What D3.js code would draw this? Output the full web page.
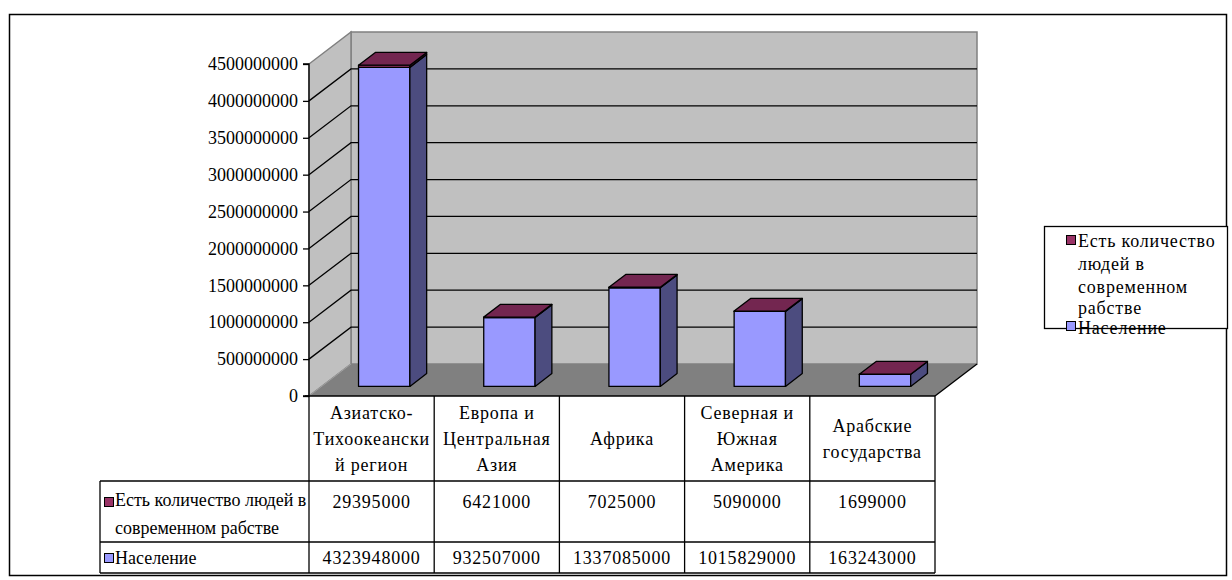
<!DOCTYPE html>
<html>
<head>
<meta charset="utf-8">
<script src="https://cdn.jsdelivr.net/npm/d3@7"></script>
</head>
<body style="margin:0">
<div id="chart"></div>
<script>
// data
const categories = [
    ['Азиатско-', 'Тихоокеански', 'й регион'],
    ['Европа и', 'Центральная', 'Азия'],
    ['Африка'],
    ['Северная и', 'Южная', 'Америка'],
    ['Арабские', 'государства'],
];
const slavery = [29395000, 6421000, 7025000, 5090000, 1699000];
const population = [4323948000, 932507000, 1337085000, 1015829000, 163243000];
const slaveryName = ['Есть количество людей в', 'современном рабстве'];
const slaveryLegend = ['Есть количество', 'людей в', 'современном', 'рабстве'];
const populationName = 'Население';
const yTicks = [0, 500000000, 1000000000, 1500000000, 2000000000, 2500000000,
    3000000000, 3500000000, 4000000000, 4500000000];

const width = 1232;
const height = 580;
const depthX = 42; // 3d offset of the back wall
const depthY = -32;
const barFront = 0.3; // bar sits between these depth fractions
const barBack = 0.7;

const svg = d3.select('#chart').append('svg')
    .attr('width', width)
    .attr('height', height);

// outer frame
svg.append('rect')
    .attr('x', 9.5).attr('y', 14.5)
    .attr('width', 1217).attr('height', 561)
    .style('fill', 'none').style('stroke', '#000').style('stroke-width', 1.5);

const x = d3.scaleBand().domain(d3.range(categories.length)).range([309, 935]);
const y = d3.scaleLinear().domain([0, 4500000000]).range([396, 64]);
const [x0, x1] = x.range();
const [yb, yt] = y.range();

const pts = p => p.map(d => d.join(',')).join(' ');

// walls and floor
svg.append('polygon')
    .attr('points', pts([[x0 + depthX, yt + depthY], [x1 + depthX, yt + depthY], [x1 + depthX, yb + depthY], [x0 + depthX, yb + depthY]]))
    .style('fill', '#c0c0c0').style('stroke', '#808080').style('stroke-width', 1.5);
svg.append('polygon')
    .attr('points', pts([[x0, yb], [x0, yt], [x0 + depthX, yt + depthY], [x0 + depthX, yb + depthY]]))
    .style('fill', '#c0c0c0').style('stroke', '#808080').style('stroke-width', 1.5);

// gridlines on the back and side walls
const grid = yTicks.filter(t => t > 0 && t < 4500000000);
svg.append('g').selectAll('path').data(grid).join('path')
    .attr('d', t => `M${x0},${y(t)}L${x0 + depthX},${y(t) + depthY}H${x1 + depthX}`)
    .style('fill', 'none').style('stroke', '#000').style('stroke-width', 1.3);

svg.append('polygon')
    .attr('points', pts([[x0, yb], [x1, yb], [x1 + depthX, yb + depthY], [x0 + depthX, yb + depthY]]))
    .style('fill', '#808080');
svg.append('path')
    .attr('d', `M${x1},${yb}L${x1 + depthX},${yb + depthY}`)
    .style('stroke', '#000').style('stroke-width', 1.3);
svg.append('path')
    .attr('d', `M${x0},${yb}L${x0 + depthX},${yb + depthY}`)
    .style('stroke', '#a0a0a0').style('stroke-width', 1);

// bars
const bw = x.bandwidth() * 0.41;
const fdx = depthX * barFront, fdy = depthY * barFront;
const bdx = depthX * (barBack - barFront), bdy = depthY * (barBack - barFront);

const bars = svg.append('g').selectAll('g')
    .data(categories.map((c, i) => ({i, pop: population[i], total: population[i] + slavery[i]})))
    .join('g')
    .style('stroke', '#000').style('stroke-width', 1.3).style('stroke-linejoin', 'round');

function face(sel, fn, color) {
    sel.append('polygon').attr('points', d => pts(fn(d))).style('fill', color);
}
const left = d => x(d.i) + (x.bandwidth() - bw) / 2 + fdx;
const yf = v => y(v) + fdy;

face(bars, d => [[left(d), yf(0)], [left(d) + bw, yf(0)], [left(d) + bw, yf(d.pop)], [left(d), yf(d.pop)]], '#9999ff');
face(bars, d => [[left(d), yf(d.pop)], [left(d) + bw, yf(d.pop)], [left(d) + bw, yf(d.total)], [left(d), yf(d.total)]], '#993366');
face(bars, d => {
    const r = left(d) + bw;
    return [[r, yf(0)], [r + bdx, yf(0) + bdy], [r + bdx, yf(d.pop) + bdy], [r, yf(d.pop)]];
}, '#4c4c7f');
face(bars, d => {
    const r = left(d) + bw;
    return [[r, yf(d.pop)], [r + bdx, yf(d.pop) + bdy], [r + bdx, yf(d.total) + bdy], [r, yf(d.total)]];
}, '#4d1a33');
face(bars, d => {
    const l = left(d), t = yf(d.total);
    return [[l, t], [l + bw, t], [l + bw + bdx, t + bdy], [l + bdx, t + bdy]];
}, '#732650');

// y axis
const yAxis = svg.append('g')
    .attr('transform', `translate(${x0},0)`)
    .call(d3.axisLeft(y).tickValues(yTicks).tickFormat(d3.format('d')).tickSize(6).tickPadding(5));
yAxis.selectAll('line, path').style('stroke', '#000').style('stroke-width', 1.3);
yAxis.select('.domain').attr('d', `M-6,${yt}H0V${yb}H-6`);

// data table
const rows = [396, 481, 542, 573];
const labelX = 100;
const table = svg.append('g').style('stroke', '#000').style('stroke-width', 1.3);
table.append('path').attr('d', `M${x0 - 4},${rows[0]}H${x1}`);
rows.slice(1).forEach(r => table.append('path').attr('d', `M${labelX},${r}H${x1}`));
table.append('path').attr('d', `M${labelX},${rows[1]}V${rows[3]}`);
x.domain().concat([categories.length]).forEach(i => {
    const xx = i < categories.length ? x(i) : x1;
    table.append('path').attr('d', `M${xx},${rows[0]}V${rows[3]}`);
});

const cx = i => x(i) + x.bandwidth() / 2;
const lh = 26;
categories.forEach((lines, i) => {
    const mid = (rows[0] + rows[1]) / 2;
    lines.forEach((ln, k) => {
        svg.append('text')
            .attr('class', 'spaced')
            .attr('text-anchor', 'middle')
            .attr('x', cx(i))
            .attr('y', mid + (k - (lines.length - 1) / 2) * lh + 6)
            .text(ln);
    });
});

svg.append('g').selectAll('text').data(slavery).join('text')
    .attr('class', 'spaced')
    .attr('x', (d, i) => cx(i)).attr('y', 508)
    .attr('text-anchor', 'middle')
    .text(d => d);
svg.append('g').selectAll('text').data(population).join('text')
    .attr('class', 'spaced')
    .attr('x', (d, i) => cx(i)).attr('y', 564)
    .attr('text-anchor', 'middle')
    .text(d => d);

function marker(g, mx, my, color) {
    g.append('rect')
        .attr('x', mx).attr('y', my).attr('width', 9).attr('height', 9)
        .style('fill', color).style('stroke', '#000').style('stroke-width', 1);
}
marker(svg, 104.5, 497.5, '#993366');
slaveryName.forEach((ln, k) => {
    svg.append('text').attr('x', 115).attr('y', 506 + k * 28).text(ln);
});
marker(svg, 104.5, 553.5, '#9999ff');
svg.append('text').attr('x', 115).attr('y', 564).text(populationName);

// legend
svg.append('rect')
    .attr('x', 1044.5).attr('y', 226.5).attr('width', 183).attr('height', 102)
    .style('fill', '#fff').style('stroke', '#000').style('stroke-width', 1.3);
marker(svg, 1066.5, 235.5, '#993366');
const legY = [247, 270, 293, 314];
slaveryLegend.forEach((ln, k) => {
    svg.append('text').attr('class', 'spaced').attr('x', 1078).attr('y', legY[k]).text(ln);
});
marker(svg, 1066.5, 321.5, '#9999ff');
svg.append('text').attr('class', 'spaced').attr('x', 1078).attr('y', 334).text(populationName);

// same serif face on every text, set on the element itself
svg.selectAll('text')
    .attr('font-family', 'Liberation Serif')
    .style('font-family', '"Liberation Serif"')
    .style('font-size', '18px')
    .style('fill', '#000');
svg.selectAll('text.spaced').style('letter-spacing', '0.8px');
</script>
</body>
</html>
